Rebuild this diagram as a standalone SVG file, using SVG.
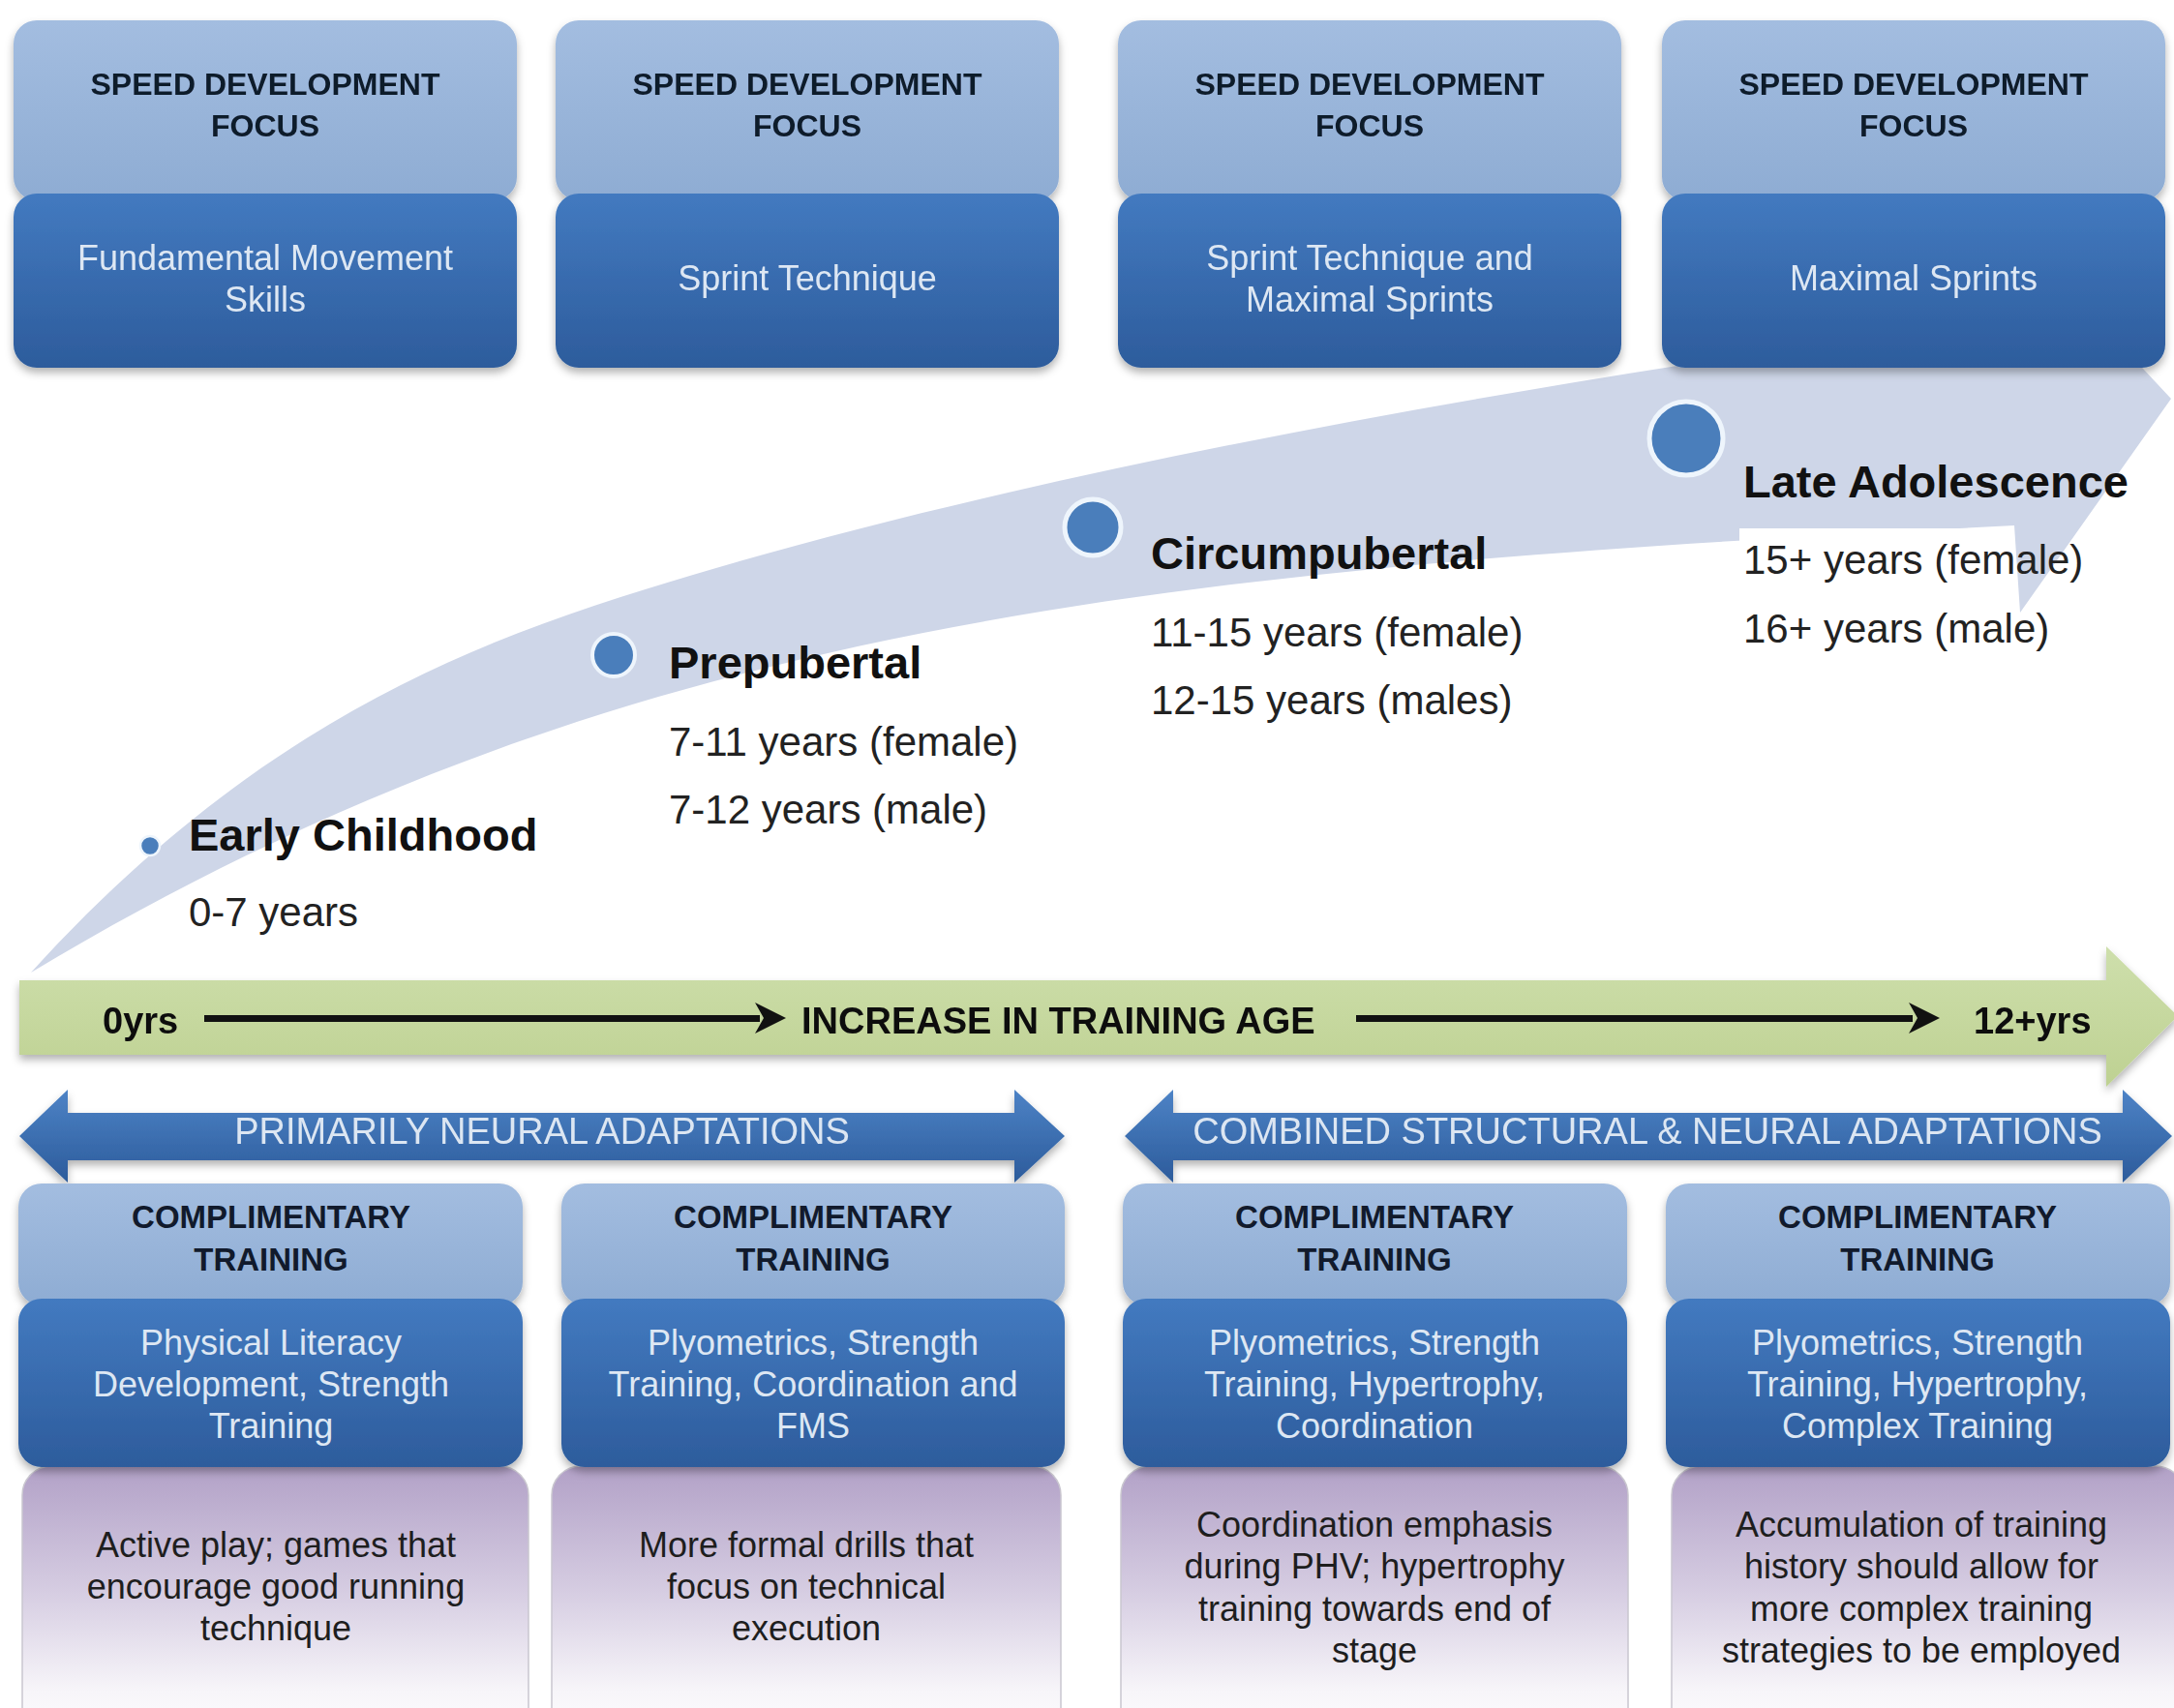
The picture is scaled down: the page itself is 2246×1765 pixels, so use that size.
<svg xmlns="http://www.w3.org/2000/svg" width="2246" height="1765" viewBox="0 0 2246 1765">
<defs>
  <linearGradient id="gLight" x1="0" y1="0" x2="0" y2="1">
    <stop offset="0" stop-color="#a3bde0"/><stop offset="1" stop-color="#8eacd3"/>
  </linearGradient>
  <linearGradient id="gDark" x1="0" y1="0" x2="0" y2="1">
    <stop offset="0" stop-color="#437ac0"/><stop offset="1" stop-color="#2d5c9c"/>
  </linearGradient>
  <linearGradient id="gPurple" x1="0" y1="0" x2="0" y2="1">
    <stop offset="0" stop-color="#b2a1c7"/><stop offset="0.45" stop-color="#d6cde2"/><stop offset="0.8" stop-color="#f7f5f9"/><stop offset="1" stop-color="#ffffff"/>
  </linearGradient>
  <linearGradient id="gGreen" x1="0" y1="0" x2="0" y2="1">
    <stop offset="0" stop-color="#cedfac"/><stop offset="1" stop-color="#bed192"/>
  </linearGradient>
  <linearGradient id="gArrow" x1="0" y1="0" x2="0" y2="1">
    <stop offset="0" stop-color="#4d83c6"/><stop offset="1" stop-color="#2c5b9b"/>
  </linearGradient>
  <filter id="sh" x="-5%" y="-10%" width="110%" height="130%">
    <feDropShadow dx="0" dy="5" stdDeviation="4" flood-color="#000" flood-opacity="0.3"/>
  </filter>
</defs>
<style>
  text{font-family:"Liberation Sans",Arial,sans-serif}
  .hd{font-weight:bold;font-size:32px;fill:#111a2c;text-anchor:middle}
  .hd2{font-weight:bold;font-size:33px;fill:#111a2c;text-anchor:middle}
  .dk{font-size:36px;fill:#dde7f3;text-anchor:middle}
  .pu{font-size:36px;fill:#1e1e1e;text-anchor:middle}
  .stage{font-weight:bold;font-size:47px;fill:#111}
  .age{font-size:42px;fill:#222}
  .axis{font-weight:bold;font-size:38px;fill:#111}
  .adapt{font-size:38px;fill:#dce6f2;text-anchor:middle}
  .light{fill:url(#gLight)}
  .dark{fill:url(#gDark)}
  .purple{fill:url(#gPurple);stroke:#c9c6cf;stroke-width:1.5}
  .dot{fill:#4a7ebb;stroke:#eef5fc}
</style>
<rect width="2246" height="1765" fill="#ffffff"/>

<!-- curved timeline band -->
<g id="timeline-band">
  <path d="M32,1005 C282,730 516,654 716,594 C1116,474 1667,382 2067,330 L2059,215 L2243,412 L2087,633 L2081,543 C1181,588 632,645 32,1005 Z" fill="#ced6e8"/>
  <rect x="1797" y="546" width="284" height="140" fill="#ffffff"/>
</g>

<!-- top row: speed development focus -->
<g id="focus-1" filter="url(#sh)">
  <rect class="light" x="14" y="21" width="520" height="186" rx="24"/>
  <rect class="dark" x="14" y="200" width="520" height="180" rx="24"/>
  <text class="hd" x="274" y="98">SPEED DEVELOPMENT</text>
  <text class="hd" x="274" y="141">FOCUS</text>
  <text class="dk" x="274" y="279">Fundamental Movement</text>
  <text class="dk" x="274" y="322">Skills</text>
</g>
<g id="focus-2" filter="url(#sh)">
  <rect class="light" x="574" y="21" width="520" height="186" rx="24"/>
  <rect class="dark" x="574" y="200" width="520" height="180" rx="24"/>
  <text class="hd" x="834" y="98">SPEED DEVELOPMENT</text>
  <text class="hd" x="834" y="141">FOCUS</text>
  <text class="dk" x="834" y="300">Sprint Technique</text>
</g>
<g id="focus-3" filter="url(#sh)">
  <rect class="light" x="1155" y="21" width="520" height="186" rx="24"/>
  <rect class="dark" x="1155" y="200" width="520" height="180" rx="24"/>
  <text class="hd" x="1415" y="98">SPEED DEVELOPMENT</text>
  <text class="hd" x="1415" y="141">FOCUS</text>
  <text class="dk" x="1415" y="279">Sprint Technique and</text>
  <text class="dk" x="1415" y="322">Maximal Sprints</text>
</g>
<g id="focus-4" filter="url(#sh)">
  <rect class="light" x="1717" y="21" width="520" height="186" rx="24"/>
  <rect class="dark" x="1717" y="200" width="520" height="180" rx="24"/>
  <text class="hd" x="1977" y="98">SPEED DEVELOPMENT</text>
  <text class="hd" x="1977" y="141">FOCUS</text>
  <text class="dk" x="1977" y="300">Maximal Sprints</text>
</g>

<!-- stages -->
<g id="stage-early">
  <circle class="dot" cx="155" cy="874" r="10" stroke-width="2.5"/>
  <text class="stage" x="195" y="879">Early Childhood</text>
  <text class="age" x="195" y="957">0-7 years</text>
</g>
<g id="stage-prepubertal">
  <circle class="dot" cx="634" cy="677" r="22" stroke-width="4"/>
  <text class="stage" x="691" y="701">Prepubertal</text>
  <text class="age" x="691" y="781">7-11 years (female)</text>
  <text class="age" x="691" y="851">7-12 years (male)</text>
</g>
<g id="stage-circumpubertal">
  <circle class="dot" cx="1129" cy="545" r="29" stroke-width="5"/>
  <text class="stage" x="1189" y="588">Circumpubertal</text>
  <text class="age" x="1189" y="668">11-15 years (female)</text>
  <text class="age" x="1189" y="738">12-15 years (males)</text>
</g>
<g id="stage-late">
  <circle class="dot" cx="1742" cy="453" r="38" stroke-width="5"/>
  <text class="stage" x="1801" y="514">Late Adolescence</text>
  <text class="age" x="1801" y="593">15+ years (female)</text>
  <text class="age" x="1801" y="664">16+ years (male)</text>
</g>

<!-- training age axis -->
<g id="training-age" filter="url(#sh)">
  <path d="M20,1013 L2176,1013 L2176,978 L2250,1050 L2176,1123 L2176,1090 L20,1090 Z" fill="url(#gGreen)"/>
  <text class="axis" x="106" y="1068">0yrs</text>
  <text class="axis" x="828" y="1068">INCREASE IN TRAINING AGE</text>
  <text class="axis" x="2039" y="1068">12+yrs</text>
</g>

<!-- adaptation arrows -->
<g id="neural" filter="url(#sh)">
  <path d="M20,1174 L70,1126 L70,1150 L1048,1150 L1048,1126 L1100,1174 L1048,1222 L1048,1199 L70,1199 L70,1222 Z" fill="url(#gArrow)"/>
  <text class="adapt" x="560" y="1182">PRIMARILY NEURAL ADAPTATIONS</text>
</g>
<g id="combined" filter="url(#sh)">
  <path d="M1162,1174 L1212,1126 L1212,1150 L2193,1150 L2193,1126 L2244,1174 L2193,1222 L2193,1199 L1212,1199 L1212,1222 Z" fill="url(#gArrow)"/>
  <text class="adapt" x="1702" y="1182">COMBINED STRUCTURAL &amp; NEURAL ADAPTATIONS</text>
</g>

<!-- bottom row: complimentary training -->
<g id="training-1">
  <rect class="purple" x="23" y="1515" width="523" height="290" rx="30"/>
  <g filter="url(#sh)">
    <rect class="light" x="19" y="1223" width="521" height="126" rx="24"/>
    <rect class="dark" x="19" y="1342" width="521" height="174" rx="24"/>
  </g>
  <text class="hd2" x="280" y="1269">COMPLIMENTARY</text>
  <text class="hd2" x="280" y="1313">TRAINING</text>
  <text class="dk" x="280" y="1400">Physical Literacy</text>
  <text class="dk" x="280" y="1443">Development, Strength</text>
  <text class="dk" x="280" y="1486">Training</text>
  <text class="pu" x="285" y="1609">Active play; games that</text>
  <text class="pu" x="285" y="1652">encourage good running</text>
  <text class="pu" x="285" y="1695">technique</text>
</g>
<g id="training-2">
  <rect class="purple" x="570" y="1515" width="526" height="290" rx="30"/>
  <g filter="url(#sh)">
    <rect class="light" x="580" y="1223" width="520" height="126" rx="24"/>
    <rect class="dark" x="580" y="1342" width="520" height="174" rx="24"/>
  </g>
  <text class="hd2" x="840" y="1269">COMPLIMENTARY</text>
  <text class="hd2" x="840" y="1313">TRAINING</text>
  <text class="dk" x="840" y="1400">Plyometrics, Strength</text>
  <text class="dk" x="840" y="1443">Training, Coordination and</text>
  <text class="dk" x="840" y="1486">FMS</text>
  <text class="pu" x="833" y="1609">More formal drills that</text>
  <text class="pu" x="833" y="1652">focus on technical</text>
  <text class="pu" x="833" y="1695">execution</text>
</g>
<g id="training-3">
  <rect class="purple" x="1158" y="1515" width="524" height="290" rx="30"/>
  <g filter="url(#sh)">
    <rect class="light" x="1160" y="1223" width="521" height="126" rx="24"/>
    <rect class="dark" x="1160" y="1342" width="521" height="174" rx="24"/>
  </g>
  <text class="hd2" x="1420" y="1269">COMPLIMENTARY</text>
  <text class="hd2" x="1420" y="1313">TRAINING</text>
  <text class="dk" x="1420" y="1400">Plyometrics, Strength</text>
  <text class="dk" x="1420" y="1443">Training, Hypertrophy,</text>
  <text class="dk" x="1420" y="1486">Coordination</text>
  <text class="pu" x="1420" y="1588">Coordination emphasis</text>
  <text class="pu" x="1420" y="1631">during PHV; hypertrophy</text>
  <text class="pu" x="1420" y="1675">training towards end of</text>
  <text class="pu" x="1420" y="1718">stage</text>
</g>
<g id="training-4">
  <rect class="purple" x="1727" y="1515" width="530" height="290" rx="30"/>
  <g filter="url(#sh)">
    <rect class="light" x="1721" y="1223" width="521" height="126" rx="24"/>
    <rect class="dark" x="1721" y="1342" width="521" height="174" rx="24"/>
  </g>
  <text class="hd2" x="1981" y="1269">COMPLIMENTARY</text>
  <text class="hd2" x="1981" y="1313">TRAINING</text>
  <text class="dk" x="1981" y="1400">Plyometrics, Strength</text>
  <text class="dk" x="1981" y="1443">Training, Hypertrophy,</text>
  <text class="dk" x="1981" y="1486">Complex Training</text>
  <text class="pu" x="1985" y="1588">Accumulation of training</text>
  <text class="pu" x="1985" y="1631">history should allow for</text>
  <text class="pu" x="1985" y="1675">more complex training</text>
  <text class="pu" x="1985" y="1718">strategies to be employed</text>
</g>

<!-- connectors -->
<g id="connectors" fill="#111" stroke="none">
  <rect x="211" y="1049" width="574" height="7"/>
  <path d="M780,1036 L812,1052 L780,1068 L789,1052 Z"/>
  <rect x="1401" y="1049" width="575" height="7"/>
  <path d="M1972,1036 L2004,1052 L1972,1068 L1981,1052 Z"/>
</g>
</svg>
